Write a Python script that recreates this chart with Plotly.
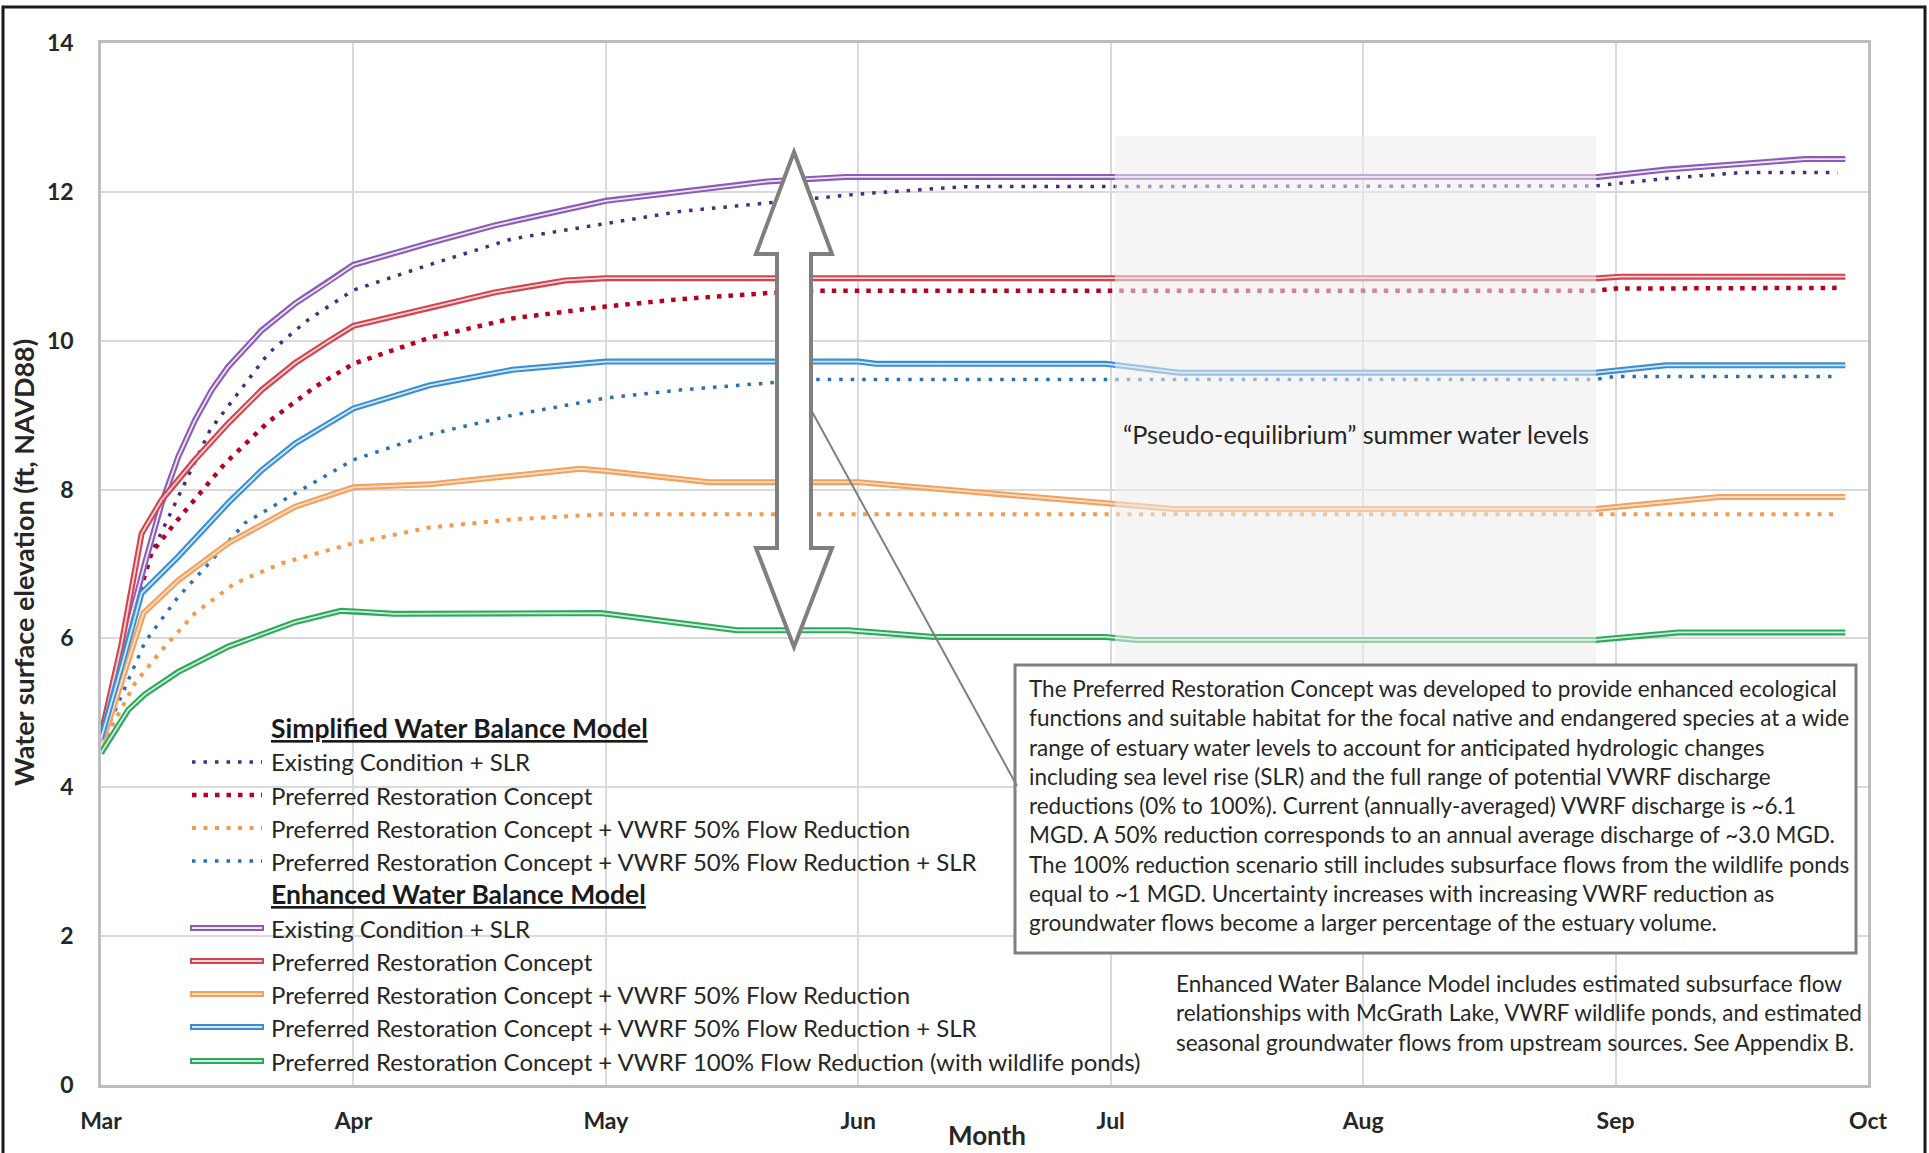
import plotly.graph_objects as go

# ---------------- data ----------------
month_labels = ["Mar", "Apr", "May", "Jun", "Jul", "Aug", "Sep", "Oct"]
month_ticks = [0, 1, 2, 3, 4, 5, 6, 7]
elev_ticks = [0, 2, 4, 6, 8, 10, 12, 14]

# Simplified Water Balance Model (dotted)
sim_existing_x = [0, 0.09, 0.174, 0.306, 0.432, 0.663, 0.82, 1.0, 1.3, 1.63, 2.0, 2.3, 2.64, 3.0, 3.42, 5.92, 6.2, 6.5, 6.88]
sim_existing_y = [4.7, 5.8, 6.96, 7.9, 8.8, 9.83, 10.28, 10.68, 11.02, 11.37, 11.58, 11.74, 11.85, 11.97, 12.07, 12.08, 12.18, 12.26, 12.26]

sim_pref_x = [0, 0.1, 0.2, 0.293, 0.491, 0.663, 0.848, 1.0, 1.3, 1.63, 2.0, 2.3, 2.64, 2.82, 5.92, 6.0, 6.88]
sim_pref_y = [4.7, 6.0, 7.15, 7.55, 8.35, 8.91, 9.38, 9.69, 10.04, 10.3, 10.46, 10.56, 10.64, 10.67, 10.67, 10.7, 10.71]

sim_pref50_x = [0, 0.135, 0.24, 0.372, 0.53, 0.716, 1.0, 1.3, 1.63, 2.0, 6.88]
sim_pref50_y = [4.55, 5.4, 5.84, 6.34, 6.74, 7.01, 7.28, 7.49, 7.6, 7.67, 7.67]

sim_pref50slr_x = [0, 0.09, 0.174, 0.306, 0.439, 0.57, 0.769, 1.0, 1.3, 1.63, 2.0, 2.3, 2.64, 2.82, 5.92, 6.0, 6.88]
sim_pref50slr_y = [4.6, 5.3, 5.95, 6.56, 7.05, 7.55, 7.95, 8.4, 8.74, 9.0, 9.23, 9.34, 9.43, 9.48, 9.48, 9.52, 9.52]

# Enhanced Water Balance Model (double solid)
enh_existing_x = [0, 0.08, 0.174, 0.24, 0.306, 0.372, 0.439, 0.504, 0.637, 0.769, 0.9, 1.0, 1.3, 1.56, 2.0, 2.35, 2.64, 2.95, 5.93, 6.2, 6.5, 6.75, 6.91]
enh_existing_y = [4.7, 5.8, 7.01, 7.81, 8.44, 8.93, 9.34, 9.65, 10.14, 10.5, 10.79, 11.02, 11.31, 11.55, 11.88, 12.02, 12.14, 12.2, 12.2, 12.3, 12.38, 12.44, 12.44]

enh_pref_x = [0, 0.08, 0.161, 0.24, 0.372, 0.504, 0.637, 0.769, 0.9, 1.0, 1.3, 1.56, 1.84, 2.0, 5.93, 6.02, 6.91]
enh_pref_y = [4.7, 5.9, 7.41, 7.86, 8.4, 8.89, 9.34, 9.7, 9.99, 10.2, 10.44, 10.65, 10.81, 10.84, 10.84, 10.86, 10.86]

enh_pref50_x = [0, 0.08, 0.168, 0.306, 0.504, 0.769, 1.0, 1.3, 1.63, 1.9, 2.0, 2.41, 3.0, 3.88, 3.98, 4.25, 5.92, 6.41, 6.91]
enh_pref50_y = [4.55, 5.4, 6.34, 6.78, 7.28, 7.77, 8.03, 8.07, 8.18, 8.28, 8.25, 8.1, 8.1, 7.84, 7.82, 7.74, 7.74, 7.9, 7.9]

enh_pref50slr_x = [0, 0.08, 0.161, 0.306, 0.504, 0.637, 0.769, 1.0, 1.3, 1.63, 2.0, 3.0, 3.07, 3.98, 4.27, 5.92, 6.2, 6.91]
enh_pref50slr_y = [4.65, 5.6, 6.61, 7.1, 7.82, 8.26, 8.62, 9.09, 9.4, 9.61, 9.72, 9.72, 9.69, 9.69, 9.57, 9.57, 9.67, 9.67]

enh_pref100_x = [0, 0.108, 0.174, 0.306, 0.504, 0.769, 0.95, 1.03, 1.16, 1.98, 2.52, 2.96, 3.3, 3.98, 4.1, 5.92, 6.25, 6.91]
enh_pref100_y = [4.46, 5.04, 5.25, 5.55, 5.89, 6.22, 6.37, 6.36, 6.33, 6.34, 6.11, 6.11, 6.02, 6.02, 5.98, 5.98, 6.08, 6.08]

sim_names = ["Existing Condition + SLR",
             "Preferred Restoration Concept",
             "Preferred Restoration Concept + VWRF 50% Flow Reduction",
             "Preferred Restoration Concept + VWRF 50% Flow Reduction + SLR"]
enh_names = ["Existing Condition + SLR",
             "Preferred Restoration Concept",
             "Preferred Restoration Concept + VWRF 50% Flow Reduction",
             "Preferred Restoration Concept + VWRF 50% Flow Reduction + SLR",
             "Preferred Restoration Concept + VWRF 100% Flow Reduction (with wildlife ponds)"]

# ---------------- styles ----------------
sim_series = [(sim_existing_x, sim_existing_y), (sim_pref_x, sim_pref_y),
              (sim_pref50_x, sim_pref50_y), (sim_pref50slr_x, sim_pref50slr_y)]
sim_colors = ["#4b2a7f", "#b8001f", "#f39a4e", "#2a6fb5"]
sim_widths = [3.5, 4.5, 4.0, 3.5]

enh_series = [(enh_existing_x, enh_existing_y), (enh_pref_x, enh_pref_y),
              (enh_pref50_x, enh_pref50_y), (enh_pref50slr_x, enh_pref50slr_y),
              (enh_pref100_x, enh_pref100_y)]
enh_outer = ["#8a5cb8", "#d04550", "#f2a160", "#3a8ed6", "#2ea85c"]
enh_inner = ["#efe6f8", "#f8d3d6", "#fbdcbf", "#d4e8f8", "#cdeed9"]

W, H = 1929, 1153
L, R, T, B = 101, 1868, 43, 1085


def px(x):
    return (x - L) / (R - L)


def py(y):
    return (B - y) / (B - T)


FONT = "Lato, 'Open Sans', Roboto, sans-serif"

fig = go.Figure()

for (xs, ys), c, w, n in zip(sim_series, sim_colors, sim_widths, sim_names):
    fig.add_trace(go.Scatter(x=xs, y=ys, mode="lines", name="Simplified: " + n,
                             line=dict(color=c, width=w, dash=f"{w}px,{11.5 - w}px"),
                             showlegend=False))

for (xs, ys), co, ci, n in zip(enh_series, enh_outer, enh_inner, enh_names):
    fig.add_trace(go.Scatter(x=xs, y=ys, mode="lines", name="Enhanced: " + n,
                             line=dict(color=co, width=6), showlegend=False))
    fig.add_trace(go.Scatter(x=xs, y=ys, mode="lines", name="Enhanced: " + n,
                             line=dict(color=ci, width=1.8), showlegend=False,
                             hoverinfo="skip"))

shapes = []
annos = []

# summer shading (over the lines, semi-transparent)
shapes.append(dict(type="rect", xref="paper", yref="paper", layer="above",
                   x0=px(1115), x1=px(1596), y0=py(663), y1=py(136),
                   fillcolor="rgba(236,236,238,0.55)", line=dict(width=0)))

# white backgrounds for legend and note
shapes.append(dict(type="rect", xref="paper", yref="paper", layer="between",
                   x0=px(145), x1=px(1166), y0=py(1077), y1=py(713),
                   fillcolor="white", line=dict(width=0)))
shapes.append(dict(type="rect", xref="paper", yref="paper", layer="between",
                   x0=px(1168), x1=px(1862), y0=py(1078), y1=py(968),
                   fillcolor="white", line=dict(width=0)))

# text box
shapes.append(dict(type="rect", xref="paper", yref="paper", layer="above",
                   x0=px(1015), x1=px(1856), y0=py(953), y1=py(665),
                   fillcolor="white", line=dict(color="#7f7f7f", width=3)))

# double-headed arrow
ax = [(794, 152), (832, 254), (811, 254), (811, 548), (832, 548), (794, 647),
      (756, 548), (777, 548), (777, 254), (756, 254)]
path = "M " + " L ".join(f"{px(a):.5f},{py(b):.5f}" for a, b in ax) + " Z"
shapes.append(dict(type="path", xref="paper", yref="paper", layer="above", path=path,
                   fillcolor="white", line=dict(color="#7f7f7f", width=4)))

# callout line
shapes.append(dict(type="line", xref="paper", yref="paper", layer="above",
                   x0=px(810), y0=py(408), x1=px(1017), y1=py(786),
                   line=dict(color="#7f7f7f", width=2)))

# legend
leg_text_x = 269
sim_rows = [762, 795, 828, 861]
enh_rows = [928, 961, 994, 1027, 1061]
for yy, txt in [(728, "Simplified Water Balance Model"), (894, "Enhanced Water Balance Model")]:
    annos.append(dict(xref="paper", yref="paper", x=px(leg_text_x), y=py(yy),
                      xanchor="left", yanchor="middle", showarrow=False, text=txt,
                      font=dict(family=FONT, size=26.5, color="#1a1a1a", weight="bold",
                                lineposition="under")))
for yy, n, c, w in zip(sim_rows, sim_names, sim_colors, sim_widths):
    shapes.append(dict(type="line", xref="paper", yref="paper", layer="above",
                       x0=px(192), x1=px(262), y0=py(yy), y1=py(yy),
                       line=dict(color=c, width=w, dash=f"{w}px,{11.5 - w}px")))
    annos.append(dict(xref="paper", yref="paper", x=px(leg_text_x), y=py(yy),
                      xanchor="left", yanchor="middle", showarrow=False, text=n,
                      font=dict(family=FONT, size=24, color="#262626")))
for yy, n, co, ci in zip(enh_rows, enh_names, enh_outer, enh_inner):
    shapes.append(dict(type="line", xref="paper", yref="paper", layer="above",
                       x0=px(190), x1=px(264), y0=py(yy), y1=py(yy),
                       line=dict(color=co, width=6)))
    shapes.append(dict(type="line", xref="paper", yref="paper", layer="above",
                       x0=px(192), x1=px(262), y0=py(yy), y1=py(yy),
                       line=dict(color=ci, width=1.8)))
    annos.append(dict(xref="paper", yref="paper", x=px(leg_text_x), y=py(yy),
                      xanchor="left", yanchor="middle", showarrow=False, text=n,
                      font=dict(family=FONT, size=24, color="#262626")))

# outer frame
shapes.append(dict(type="rect", xref="paper", yref="paper", layer="above",
                   x0=px(3), x1=px(1925), y0=py(1165), y1=py(7),
                   fillcolor="rgba(0,0,0,0)", line=dict(color="#1a1a1a", width=3)))

box_text = ("The Preferred Restoration Concept was developed to provide enhanced ecological<br>"
            "functions and suitable habitat for the focal native and endangered species at a wide<br>"
            "range of estuary water levels to account for anticipated hydrologic changes<br>"
            "including sea level rise (SLR) and the full range of potential VWRF discharge<br>"
            "reductions (0% to 100%). Current (annually-averaged) VWRF discharge is ~6.1<br>"
            "MGD. A 50% reduction corresponds to an annual average discharge of ~3.0 MGD.<br>"
            "The 100% reduction scenario still includes subsurface flows from the wildlife ponds<br>"
            "equal to ~1 MGD. Uncertainty increases with increasing VWRF reduction as<br>"
            "groundwater flows become a larger percentage of the estuary volume.")
annos.append(dict(xref="paper", yref="paper", x=px(1027), y=py(673),
                  xanchor="left", yanchor="top", align="left", showarrow=False,
                  text=box_text, font=dict(family=FONT, size=22.5, color="#262626")))

note_text = ("Enhanced Water Balance Model includes estimated subsurface flow<br>"
             "relationships with McGrath Lake, VWRF wildlife ponds, and estimated<br>"
             "seasonal groundwater flows from upstream sources. See Appendix B.")
annos.append(dict(xref="paper", yref="paper", x=px(1174), y=py(968),
                  xanchor="left", yanchor="top", align="left", showarrow=False,
                  text=note_text, font=dict(family=FONT, size=22.5, color="#262626")))

annos.append(dict(xref="paper", yref="paper", x=px(1356), y=py(434),
                  xanchor="center", yanchor="middle", showarrow=False,
                  text="\u201cPseudo-equilibrium\u201d summer water levels",
                  font=dict(family=FONT, size=25.3, color="#262626")))

# axis titles
annos.append(dict(xref="paper", yref="paper", x=px(987), y=py(1135),
                  xanchor="center", yanchor="middle", showarrow=False, text="Month",
                  font=dict(family=FONT, size=26, color="#262626", weight="bold")))
annos.append(dict(xref="paper", yref="paper", x=px(23), y=py(563),
                  xanchor="center", yanchor="middle", showarrow=False, textangle=-90,
                  text="Water surface elevation (ft, NAVD88)",
                  font=dict(family=FONT, size=27, color="#262626", weight="bold")))

fig.update_layout(
    width=W, height=H,
    margin=dict(l=L, r=W - R, t=T, b=H - B, pad=0),
    paper_bgcolor="white", plot_bgcolor="white",
    showlegend=False,
    shapes=shapes, annotations=annos,
    xaxis=dict(range=[0, 7], tickvals=month_ticks, ticktext=month_labels,
               showgrid=True, gridcolor="#dadada", gridwidth=1.5,
               showline=True, linecolor="#bdbdbd", linewidth=2.5, mirror=True,
               zeroline=False, ticks="", ticklabelstandoff=14,
               tickfont=dict(family=FONT, size=23, color="#262626", weight="bold")),
    yaxis=dict(range=[0, 14], tickvals=elev_ticks,
               showgrid=True, gridcolor="#dadada", gridwidth=1.5,
               showline=True, linecolor="#bdbdbd", linewidth=2.5, mirror=True,
               zeroline=False, ticks="", ticklabelstandoff=20,
               tickfont=dict(family=FONT, size=23, color="#262626", weight="bold")),
)

fig.write_html("out.html", config={"displayModeBar": False},
               post_script="document.body.style.margin='0';document.body.style.overflow='hidden';")
